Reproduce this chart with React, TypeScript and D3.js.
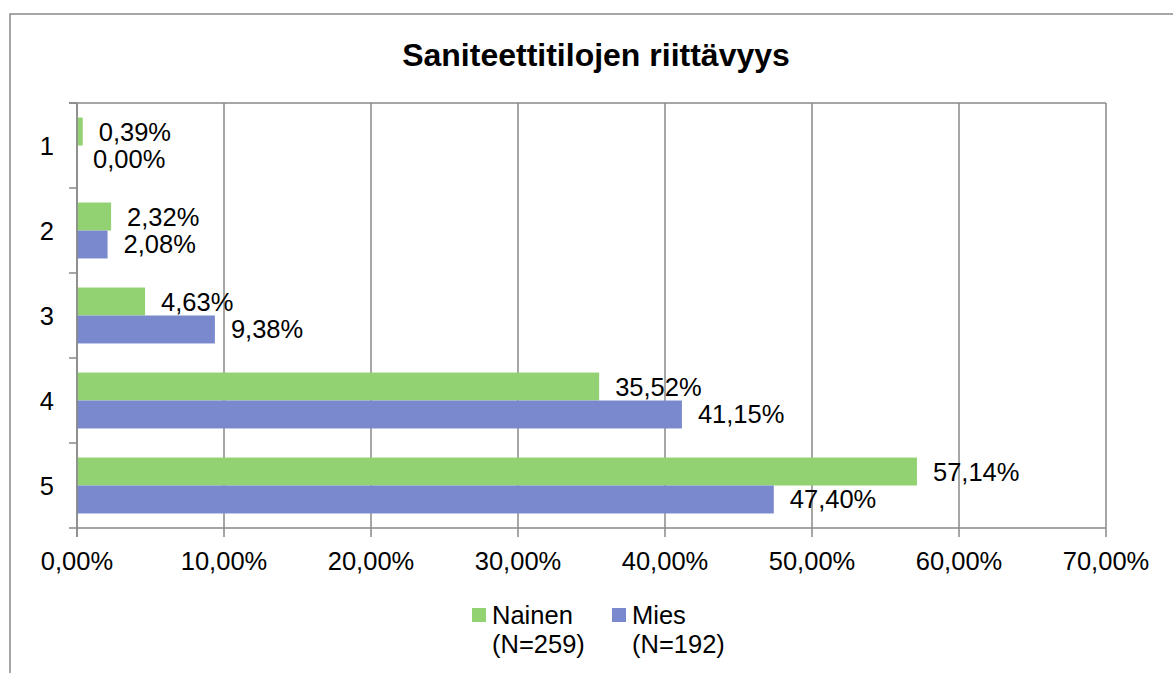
import React from 'react'
import * as d3 from 'd3'

const categories = ['1', '2', '3', '4', '5']
const seriesNames = ['Nainen', 'Mies']
const seriesSubLabels = ['(N=259)', '(N=192)']
const nainenValues = [0.39, 2.32, 4.63, 35.52, 57.14]
const miesValues = [0.0, 2.08, 9.38, 41.15, 47.4]
const xTicks = [0, 10, 20, 30, 40, 50, 60, 70]
const colors = ['#93D272', '#7A89CD']

const W = 1173
const H = 673
const margin = { top: 103, right: 67, bottom: 145, left: 77 }
const FONT = '"Liberation Sans", Arial, sans-serif'
const GRID = '#898989'

const fmt = (v: number) => v.toFixed(2).replace('.', ',') + '%'

export default function App() {
  const innerW = W - margin.left - margin.right
  const innerH = H - margin.top - margin.bottom

  const x = d3.scaleLinear().domain([0, 70]).range([0, innerW])
  const y = d3.scaleBand().domain(categories).range([0, innerH]).padding(0)
  const sub = d3.scaleBand().domain(seriesNames).range([0, y.bandwidth()]).paddingInner(0).paddingOuter(0.52)

  const series = [nainenValues, miesValues]

  return (
    <svg width={W} height={H} style={{ position: 'absolute', left: 0, top: 0, fontFamily: FONT }}>
      <rect x={0} y={0} width={W} height={H} fill="#fff" />
      {/* outer chart border */}
      <rect x={10} y={14} width={W + 20} height={H + 20} fill="none" stroke={GRID} strokeWidth={1.5} />

      <text x={596} y={66} textAnchor="middle" fontSize={32} fontWeight="bold" fill="#000">
        Saniteettitilojen riittävyys
      </text>

      <g transform={`translate(${margin.left},${margin.top})`}>
        {/* vertical grid lines */}
        {xTicks.map(t => (
          <line key={'g' + t} x1={x(t)} x2={x(t)} y1={0} y2={innerH + 9} stroke={GRID} strokeWidth={1.5} />
        ))}
        {/* plot top border */}
        <line x1={-8} x2={innerW} y1={0} y2={0} stroke={GRID} strokeWidth={1.5} />
        {/* x axis */}
        <line x1={0} x2={innerW} y1={innerH} y2={innerH} stroke={GRID} strokeWidth={1.5} />
        {/* y axis ticks at band edges */}
        {categories.concat(['end']).map((c, i) => {
          const yy = i < categories.length ? (y(c) as number) : innerH
          return <line key={'yt' + i} x1={-8} x2={0} y1={yy} y2={yy} stroke={GRID} strokeWidth={1.5} />
        })}

        {xTicks.map(t => (
          <text key={'xl' + t} x={x(t)} y={innerH + 42} textAnchor="middle" fontSize={25.5} fill="#000">
            {t.toFixed(2).replace('.', ',') + '%'}
          </text>
        ))}

        {categories.map(c => (
          <text key={'yl' + c} x={-23} y={(y(c) as number) + y.bandwidth() / 2 + 9} textAnchor="end" fontSize={25.5} fill="#000">
            {c}
          </text>
        ))}

        {series.map((vals, si) =>
          categories.map((c, ci) => {
            const by = (y(c) as number) + (sub(seriesNames[si]) as number)
            const bw = x(vals[ci])
            return (
              <g key={`b${si}-${ci}`}>
                {bw > 0 && <rect x={0} y={by} width={bw} height={sub.bandwidth()} fill={colors[si]} />}
                <text x={bw + 16} y={by + sub.bandwidth() / 2 + 9} fontSize={25.5} fill="#000">
                  {fmt(vals[ci])}
                </text>
              </g>
            )
          })
        )}
        {/* y axis line */}
        <line x1={0} x2={0} y1={0} y2={innerH + 9} stroke={GRID} strokeWidth={1.5} />
      </g>

      {/* legend */}
      {seriesNames.map((name, i) => {
        const lx = 472 + i * 140
        return (
          <g key={'lg' + name}>
            <rect x={lx} y={608} width={14} height={14} fill={colors[i]} />
            <text x={lx + 20} y={624} fontSize={25.5} fill="#000">{name}</text>
            <text x={lx + 20} y={653} fontSize={25.5} fill="#000">{seriesSubLabels[i]}</text>
          </g>
        )
      })}
    </svg>
  )
}
